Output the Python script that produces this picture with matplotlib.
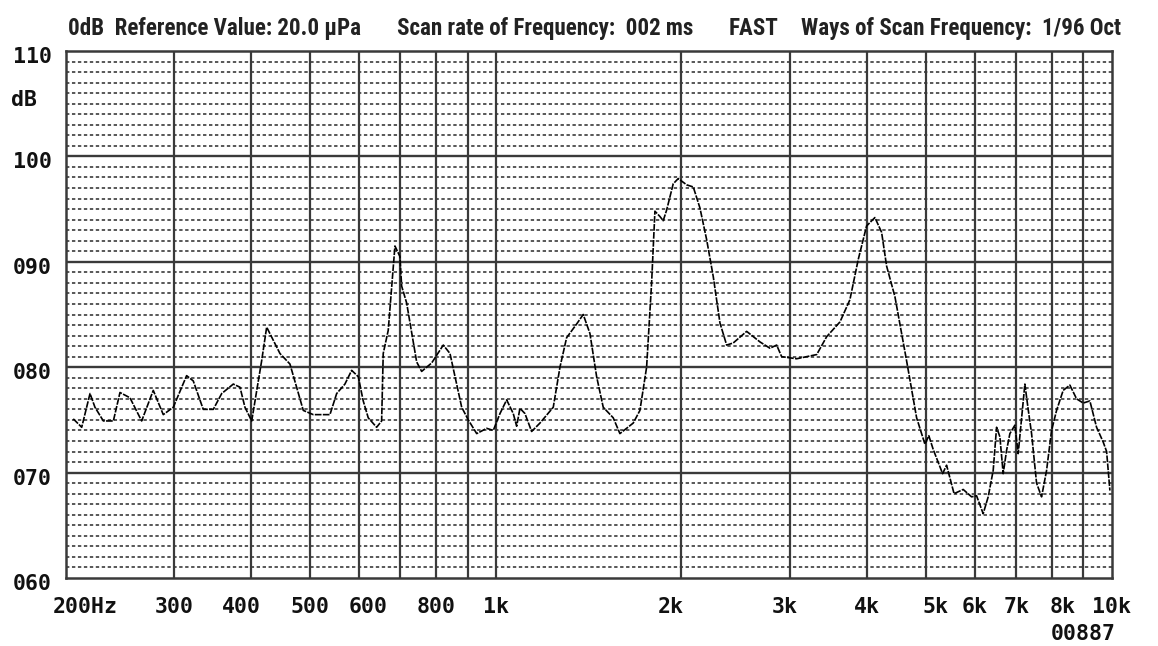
import matplotlib
matplotlib.use("Agg")
import matplotlib.pyplot as plt
from matplotlib.transforms import ScaledTranslation

# ---------------- data ----------------
freq_hz = [205.9, 212.5, 219.2, 223.3, 230.4, 239.2, 245.2, 254.5, 265.9, 277.7,
           288.3, 299.3, 314.6, 322.5, 334.8, 347.6, 358.7, 374.6, 384.1, 391.3,
           401.3, 416.5, 424.4, 446.0, 463.0, 486.7, 505.2, 537.7, 551.4, 568.7,
           583.2, 597.8, 609.0, 620.5, 640.3, 652.4, 656.3, 668.7, 685.7, 698.6,
           703.1, 716.3, 743.7, 757.7, 786.6, 821.6, 842.4, 880.1, 902.1, 930.9,
           966.4, 990.5, 1015.6, 1041.3, 1067.4, 1081.0, 1094.4, 1115.1, 1143.3, 1179.4,
           1239.6, 1271.0, 1303.1, 1352.9, 1386.6, 1421.8, 1457.9, 1494.3, 1551.2, 1590.5,
           1671.7, 1714.1, 1757.5, 1790.7, 1813.0, 1847.2, 1870.1, 1894.0, 1941.4, 1978.4,
           2041.5, 2092.6, 2145.6, 2200.0, 2255.0, 2312.2, 2370.8, 2430.1, 2554.9, 2685.3,
           2787.6, 2858.3, 2912.2, 3080.0, 3320.4, 3446.8, 3622.6, 3759.1, 3877.6, 4001.3,
           4127.7, 4232.4, 4312.3, 4448.3, 4647.3, 4824.5, 4976.7, 5050.0, 5133.4, 5316.9,
           5396.8, 5550.0, 5742.6, 5925.8, 6037.5, 6188.4, 6305.2, 6424.3, 6506.5, 6587.2,
           6669.0, 6754.3, 6838.3, 6967.3, 7053.9, 7144.1, 7232.8, 7322.6, 7416.3, 7556.1,
           7698.7, 7843.9, 7991.9, 8143.0, 8346.4, 8558.1, 8775.3, 8994.7, 9223.0, 9457.0,
           9694.3, 9818.5, 9940.5]
level_db = [75.1, 74.3, 77.5, 76.2, 74.9, 74.9, 77.6, 77.1, 74.9, 77.8,
            75.5, 76.2, 79.2, 78.7, 76.0, 76.0, 77.5, 78.4, 78.1, 76.2,
            74.9, 80.6, 83.8, 81.3, 80.3, 75.9, 75.5, 75.5, 77.5, 78.4,
            79.7, 79.1, 76.8, 75.2, 74.3, 74.9, 81.3, 83.5, 91.5, 90.5,
            87.7, 86.1, 80.5, 79.6, 80.4, 82.1, 81.3, 76.2, 75.0, 73.7,
            74.2, 74.0, 75.6, 76.9, 75.6, 74.4, 76.1, 75.6, 73.9, 74.7,
            76.2, 80.0, 82.8, 84.1, 85.0, 83.2, 79.1, 76.2, 75.2, 73.7,
            74.7, 75.9, 80.0, 88.0, 94.8, 94.3, 93.9, 94.9, 97.4, 97.9,
            97.3, 97.1, 95.1, 92.1, 88.6, 84.2, 82.1, 82.3, 83.4, 82.4,
            81.8, 82.1, 81.0, 80.8, 81.2, 82.9, 84.3, 86.4, 90.2, 93.4,
            94.2, 92.8, 89.6, 86.7, 80.6, 75.2, 72.7, 73.5, 72.2, 69.9,
            70.7, 68.0, 68.4, 67.7, 67.8, 66.1, 67.7, 70.2, 74.3, 73.4,
            69.9, 72.1, 73.7, 74.5, 71.8, 75.2, 78.4, 76.0, 73.7, 69.0,
            67.7, 70.2, 74.0, 75.9, 77.8, 78.3, 77.0, 76.6, 76.8, 74.3,
            72.9, 72.0, 68.3]

grid_freqs = [200, 300, 400, 500, 600, 700, 800, 900, 1000,
              2000, 3000, 4000, 5000, 6000, 7000, 8000, 9000, 10000]
tick_freqs = [200, 300, 400, 500, 600, 800, 1000, 2000, 3000, 4000,
              5000, 6000, 7000, 8000, 10000]
tick_labels = ["200Hz", "300", "400", "500", "600", "800", "1k", "2k", "3k",
               "4k", "5k", "6k", "7k", "8k", "10k"]
db_major = [60, 70, 80, 90, 100, 110]
db_labels = ["060", "070", "080", "090", "100", "110"]
header_parts = ["0dB  Reference Value: 20.0 \u03bcPa",
                "Scan rate of Frequency:  002 ms",
                "FAST",
                "Ways of Scan Frequency:  1/96 Oct"]
unit_label = "dB"
serial_label = "00887"

# ---------------- figure ----------------
W, H = 1158, 646
fig = plt.figure(figsize=(W / 100, H / 100), dpi=100)
fig.patch.set_facecolor("white")
ax = fig.add_axes([65.5 / W, 1 - 578 / H, 1046 / W, 527 / H])
ax.set_xscale("log")
ax.set_xlim(200, 10000)
ax.set_ylim(60, 110)

mono = dict(family="DejaVu Sans Mono", weight="bold", size=15.5, color="#111111")
head_font = dict(family=["Liberation Sans Narrow", "Roboto Condensed", "DejaVu Sans"],
                 stretch="condensed", weight="bold", size=16.6, color="#222222")

grid_col = "#3a3a3a"
# minor dashed dB lines
for v in range(60, 111):
    if v in db_major:
        continue
    ax.axhline(v, color="#2a2a2a", lw=1.1, ls=(0, (2.2, 1.7)), zorder=1)
for v in db_major[1:-1]:
    ax.axhline(v, color=grid_col, lw=1.7, zorder=2)
for f in grid_freqs[1:-1]:
    ax.axvline(f, color=grid_col, lw=1.6, zorder=2)
for s in ax.spines.values():
    s.set_color(grid_col)
    s.set_linewidth(1.8)

ax.plot(freq_hz, level_db, color="black", lw=1.2, ls=(0, (4, 0.8)), zorder=3)

ax.minorticks_off()
ax.set_xticks(tick_freqs)
ax.set_xticklabels(tick_labels, **mono)
ax.tick_params(axis="x", length=0, pad=14)
ax.set_yticks(db_major)
ax.set_yticklabels(db_labels, **mono)
ax.tick_params(axis="y", length=0, pad=10)
for lbl in ax.get_yticklabels():
    lbl.set_transform(lbl.get_transform() + ScaledTranslation(0, -0.04, fig.dpi_scale_trans))

# the device prints the axis labels on a fixed character grid: small nudges (pixels)
label_nudge_px = {"200Hz": -13, "400": -9, "600": 9, "2k": -10, "3k": -5,
                  "5k": 9, "8k": 11}
for lbl in ax.get_xticklabels():
    t = lbl.get_text()
    if t == "200Hz":
        lbl.set_horizontalalignment("left")
    dx = label_nudge_px.get(t, 0) / 100
    if dx:
        lbl.set_transform(lbl.get_transform() + ScaledTranslation(dx, 0, fig.dpi_scale_trans))

fig.text(11.5 / W, 1 - 100.5 / H, unit_label, ha="left", va="center", **mono)
fig.text(1083 / W, 1 - 634 / H, serial_label, ha="center", va="center", **mono)

for txt, xpx in zip(header_parts, [68, 397, 729, 801]):
    fig.text(xpx / W, 1 - 35 / H, txt, ha="left", va="baseline", **head_font)

fig.savefig("out.png", dpi=100, facecolor="white")
